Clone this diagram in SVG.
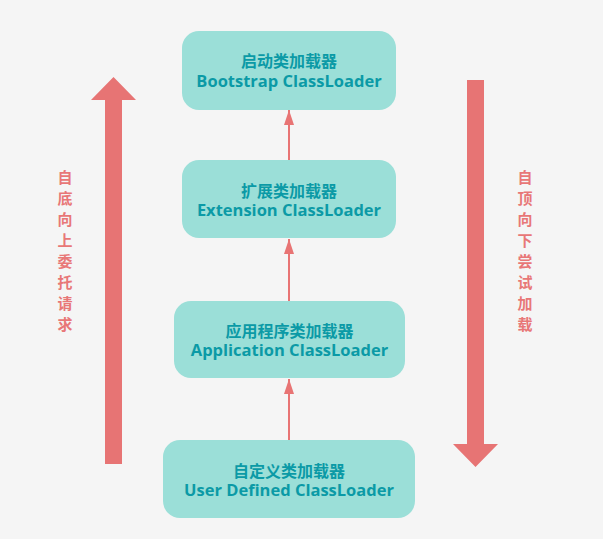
<svg xmlns="http://www.w3.org/2000/svg" width="603" height="539" viewBox="0 0 603 539">
<style>
.box{fill:#9BDFD8;}
.t{font-family:"Noto Sans CJK SC","Noto Sans",sans-serif;font-weight:bold;font-size:16px;fill:#0B9AA6;text-anchor:middle;}
.e{font-family:"Open Sans","Noto Sans CJK SC",sans-serif;font-weight:bold;font-size:16.5px;fill:#0B9AA6;text-anchor:middle;}
.v{font-family:"Noto Sans CJK SC",sans-serif;font-weight:bold;font-size:15px;fill:#E87777;text-anchor:middle;}
.c{stroke:#E87474;stroke-width:2;fill:none;}
.big{fill:#E77474;}
</style>
<defs>
<marker id="ah" markerWidth="15" markerHeight="10" refX="15" refY="5" orient="auto" markerUnits="userSpaceOnUse" viewBox="0 0 15 10">
<path d="M0 0 L15 5 L0 10 Z" fill="#E87474"/>
</marker>
</defs>
<rect width="603" height="539" fill="#F5F5F5"/>
<g id="arrow-up">
<path class="big" d="M105 464 L105 100 L91 100 L113.5 77 L136 100 L122 100 L122 464 Z"/>
</g>
<g id="arrow-down">
<path class="big" d="M467 80 L484 80 L484 444 L498 444 L475.5 467 L453 444 L467 444 Z"/>
</g>
<g id="label-left">
<text class="v" x="65" y="183">自</text>
<text class="v" x="65" y="204">底</text>
<text class="v" x="65" y="225">向</text>
<text class="v" x="65" y="246">上</text>
<text class="v" x="65" y="267">委</text>
<text class="v" x="65" y="288">托</text>
<text class="v" x="65" y="309">请</text>
<text class="v" x="65" y="330">求</text>
</g>
<g id="label-right">
<text class="v" x="525" y="183">自</text>
<text class="v" x="525" y="204">顶</text>
<text class="v" x="525" y="225">向</text>
<text class="v" x="525" y="246">下</text>
<text class="v" x="525" y="267">尝</text>
<text class="v" x="525" y="288">试</text>
<text class="v" x="525" y="309">加</text>
<text class="v" x="525" y="330">载</text>
</g>
<g id="connectors">
<line class="c" x1="289" y1="160" x2="289" y2="110" marker-end="url(#ah)"/>
<line class="c" x1="289" y1="301" x2="289" y2="239" marker-end="url(#ah)"/>
<line class="c" x1="289" y1="440" x2="289" y2="379" marker-end="url(#ah)"/>
</g>
<g id="bootstrap">
<rect class="box" x="182" y="31" width="214" height="79" rx="17"/>
<text class="t" x="289" y="67">启动类加载器</text>
<text class="e" x="289" y="87">Bootstrap ClassLoader</text>
</g>
<g id="extension">
<rect class="box" x="182" y="160" width="214" height="78" rx="17"/>
<text class="t" x="289" y="197">扩展类加载器</text>
<text class="e" x="289" y="216">Extension ClassLoader</text>
</g>
<g id="application">
<rect class="box" x="174" y="301" width="231" height="77" rx="17"/>
<text class="t" x="289.5" y="337">应用程序类加载器</text>
<text class="e" x="289.5" y="356">Application ClassLoader</text>
</g>
<g id="userdefined">
<rect class="box" x="163" y="440" width="252" height="78" rx="17"/>
<text class="t" x="289" y="477">自定义类加载器</text>
<text class="e" x="289" y="496">User Defined ClassLoader</text>
</g>
</svg>
